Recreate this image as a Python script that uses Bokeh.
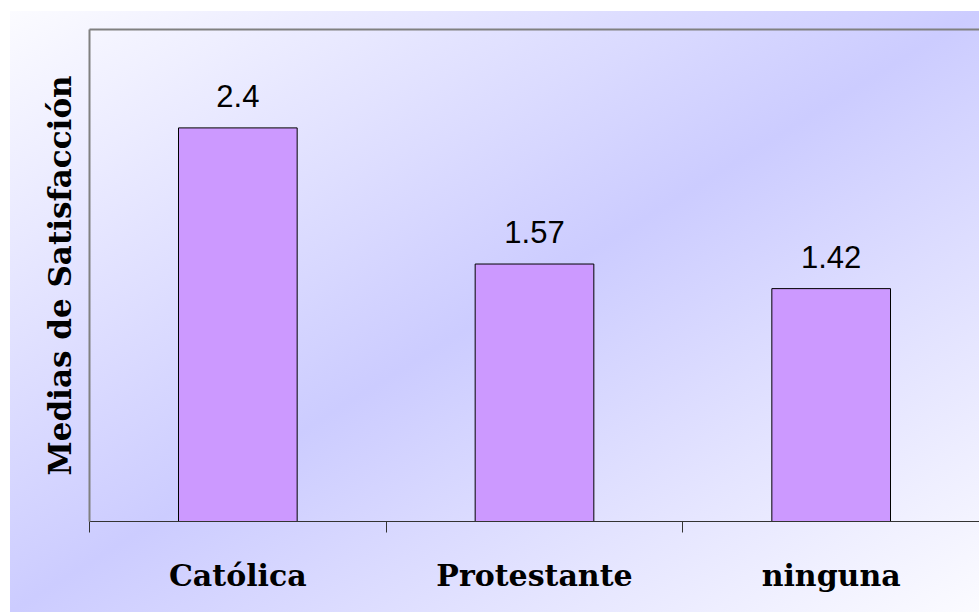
from bokeh.plotting import figure
from bokeh.models import ColumnDataSource, LabelSet, LinearAxis, FixedTicker, Range1d
from bokeh.core.properties import value
from bokeh.embed import file_html
from bokeh.resources import INLINE

categories = ["Católica", "Protestante", "ninguna"]
values = [2.4, 1.57, 1.42]
value_labels = ["2.4", "1.57", "1.42"]
y_max = 3

xs = [i + 0.5 for i in range(len(categories))]
bounds = list(range(len(categories) + 1))

src = ColumnDataSource(dict(x=xs, top=values, lab=value_labels, cat=categories))

p = figure(width=979, height=612,
           x_range=Range1d(0, len(categories)), y_range=Range1d(0, y_max),
           output_backend="svg", toolbar_location=None,
           min_border_left=89, min_border_right=0,
           min_border_top=29, min_border_bottom=91)

p.background_fill_alpha = 0
p.border_fill_alpha = 0
p.outline_line_color = None
p.xgrid.visible = False
p.ygrid.visible = False
p.styles = {
    "background-color": "#ffffff",
    "background-image": "linear-gradient(to bottom right, #fbfbff 0%, #ccccff 50%, #fbfbff 100%)",
    "background-position": "10px 11px",
    "background-size": "969px 601px",
    "background-repeat": "no-repeat",
}

p.vbar(x="x", top="top", width=0.4, source=src,
       fill_color="#CC99FF", line_color="#000000", line_width=1)

labels = LabelSet(x="x", y="top", text="lab", source=src,
                  text_align="center", text_baseline="alphabetic",
                  y_offset=21, text_font=value("Liberation Sans"),
                  text_font_size=value("31px"), text_color=value("#000000"))
p.add_layout(labels)

xa = p.xaxis[0]
xa.ticker = FixedTicker(ticks=xs, minor_ticks=bounds)
xa.major_label_overrides = {x: c for x, c in zip(xs, categories)}
xa.major_tick_in = 0
xa.major_tick_out = 0
xa.minor_tick_in = 0
xa.minor_tick_out = 11
xa.minor_tick_line_color = "#333333"
xa.axis_line_color = "#333333"
xa.axis_line_width = 1
xa.major_label_standoff = 25
xa.major_label_text_font = "DejaVu Serif"
xa.major_label_text_font_style = "bold"
xa.major_label_text_font_size = "30px"
xa.major_label_text_color = "#000000"

ya = p.yaxis[0]
ya.ticker = FixedTicker(ticks=[])
ya.major_tick_out = 0
ya.major_tick_in = 0
ya.minor_tick_out = 0
ya.minor_tick_in = 0
ya.axis_line_color = "#808080"
ya.axis_line_width = 2
ya.axis_label = "Medias de Satisfacción"
ya.axis_label_text_font = "DejaVu Serif"
ya.axis_label_text_font_style = "bold"
ya.axis_label_text_font_size = "31px"
ya.axis_label_text_color = "#000000"
ya.axis_label_standoff = 12

top_axis = LinearAxis(ticker=FixedTicker(ticks=[]), major_tick_out=0, major_tick_in=0,
                      minor_tick_out=0, minor_tick_in=0,
                      axis_line_color="#808080", axis_line_width=2,
                      major_label_text_font_size="0px")
p.add_layout(top_axis, "above")

open("out.html", "w").write(file_html(p, INLINE))
